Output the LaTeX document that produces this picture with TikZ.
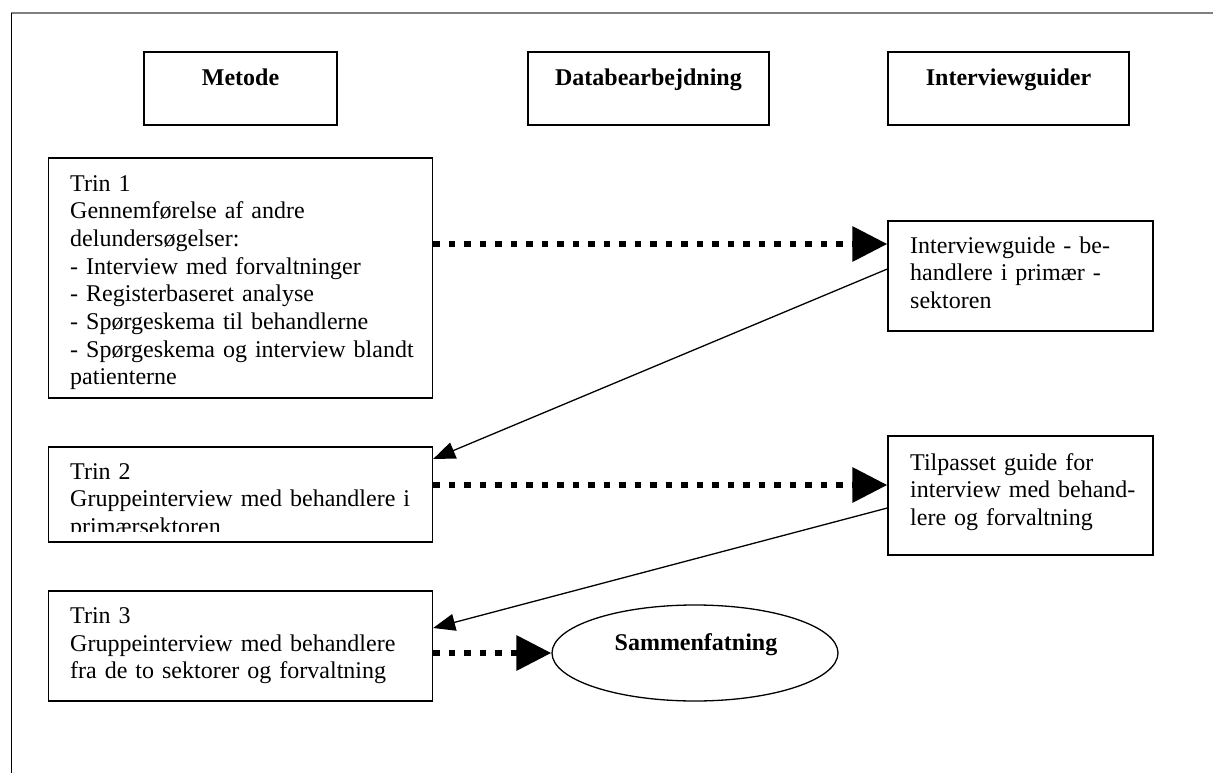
\documentclass[tikz,border=0pt]{standalone}
\usepackage{fontspec}
\setmainfont{Liberation Serif}
\usetikzlibrary{arrows.meta,shapes.geometric}
\begin{document}
\begin{tikzpicture}[x=1pt,y=-1pt,
  box/.style={draw,line width=1.3pt,inner sep=0pt,rectangle},
  txt/.style={inner sep=0pt,anchor=base west,align=left,text width=420pt,font=\fontsize{24}{27.7}\selectfont},
  head/.style={inner sep=0pt,anchor=base,font=\fontsize{24}{27.7}\selectfont\bfseries},
  dotarrow/.style={line width=6.5pt,dash pattern=on 6.5pt off 9pt,-{Triangle[length=35pt,width=34pt]}},
  solarrow/.style={line width=1.3pt,-{Triangle[length=22pt,width=17pt]}}]
\useasboundingbox (0,0) rectangle (1213,773);
% frame
\draw[line width=1.4pt,gray] (11,13) -- (1213,13);
\draw[line width=1pt,black] (11,13) -- (11,773);
% header boxes
\node[box,minimum width=193pt,minimum height=73pt] (metode) at (240.5,88.5) {};
\node[head] (metodeT) at (240.5,86) {Metode};
\node[box,minimum width=241pt,minimum height=73pt] (data) at (648.5,88.5) {};
\node[head] (dataT) at (648.5,86) {Databearbejdning};
\node[box,minimum width=241pt,minimum height=73pt] (guider) at (1008.5,88.5) {};
\node[head] (guiderT) at (1008.5,86) {Interviewguider};
% left column
\node[box,minimum width=384pt,minimum height=240pt] (t1) at (240.5,278) {};
\node[txt] (t1T) at (70,191) {Trin 1\\Gennemførelse af andre\\delundersøgelser:\\- Interview med forvaltninger\\- Registerbaseret analyse\\- Spørgeskema til behandlerne\\- Spørgeskema og interview blandt\\patienterne};
\node[box,minimum width=384pt,minimum height=95pt] (t2) at (240.5,494.5) {};
\begin{scope}
\clip (t2.north west) rectangle ([yshift=11pt]t2.south east);
\node[txt] (t2T) at (70,479) {Trin 2\\Gruppeinterview med behandlere i\\primærsektoren};
\end{scope}
\node[box,minimum width=384pt,minimum height=110pt] (t3) at (240.5,646) {};
\node[txt] (t3T) at (70,623.5) {Trin 3\\Gruppeinterview med behandlere\\fra de to sektorer og forvaltning};
% right column
\node[box,minimum width=265pt,minimum height=110pt] (ig) at (1020.5,276) {};
\node[txt] (igT) at (910,253) {Interviewguide - be-\\handlere i primær -\\sektoren};
\node[box,minimum width=265pt,minimum height=119pt] (tp) at (1020.5,495.5) {};
\node[txt] (tpT) at (910,470) {Tilpasset guide for\\interview med behand-\\lere og forvaltning};
% ellipse
\node[ellipse,draw,line width=1.3pt,inner sep=0pt,minimum width=286pt,minimum height=96pt] (ell) at (695,653) {};
\node[head] (ellT) at (696,650) {Sammenfatning};
% helper coordinates
\coordinate (y1) at (0,244);
\coordinate (y2) at (0,485);
\coordinate (s1) at (0,269);
\coordinate (e1) at (0,459);
\coordinate (s2) at (0,508);
\coordinate (e2) at (0,628);
% connectors
\draw[dotarrow] (t1.east |- y1) -- (ig.west |- y1);
\draw[solarrow] (ig.west |- s1) -- (t2.east |- e1);
\draw[dotarrow] (t2.east |- y2) -- (tp.west |- y2);
\draw[solarrow] (tp.west |- s2) -- (t3.east |- e2);
\draw[dotarrow] (t3.east |- ell.west) -- (ell.west);
\end{tikzpicture}
\end{document}
